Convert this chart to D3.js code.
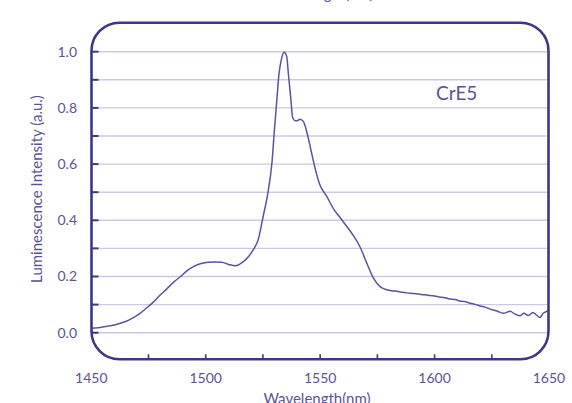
<!DOCTYPE html>
<meta charset="utf-8">
<html>
<head>
<script src="https://d3js.org/d3.v7.min.js"></script>
<style>
  body { margin: 0; background: #fff; }
  svg { display: block; }
  text { font-family: "Century Gothic", "Lato", sans-serif; fill: #5a5497; }
</style>
</head>
<body>
<div id="chart"></div>
<script>
// emission spectrum
var wavelength = [1450,1453,1456,1459,1462,1465,1468,1471,1474,1477,1480,1483,1486,1489,1492,1495,1498,1501,1504,1507,1510,1513,1516,1519,1521,1523,1525,1527,1529,1530,1531,1532,1533,1534.3,1535.4,1536.1,1537.1,1538,1539.3,1540.2,1541.2,1542.7,1544.6,1546.3,1547.8,1549.7,1552.9,1556.1,1558.7,1561,1563.8,1567.4,1570.4,1573.3,1576.2,1580.6,1583,1585,1587,1589.3,1592,1594,1596,1598.1,1600,1602,1604,1606.8,1609,1611,1613,1615.5,1618,1620,1622,1624.3,1627,1630,1633,1635,1637.4,1639,1641,1643,1644.5,1646,1647.5,1649,1650];
var intensity  = [0.016,0.018,0.022,0.026,0.032,0.040,0.052,0.067,0.087,0.108,0.133,0.156,0.180,0.200,0.222,0.237,0.246,0.251,0.252,0.251,0.243,0.238,0.250,0.274,0.298,0.333,0.410,0.490,0.610,0.720,0.820,0.920,0.970,0.998,0.982,0.923,0.840,0.765,0.754,0.755,0.760,0.751,0.700,0.638,0.585,0.530,0.485,0.437,0.410,0.385,0.354,0.306,0.247,0.194,0.164,0.150,0.148,0.145,0.143,0.140,0.139,0.136,0.135,0.132,0.131,0.127,0.125,0.120,0.118,0.113,0.111,0.105,0.100,0.095,0.091,0.084,0.078,0.069,0.076,0.067,0.060,0.069,0.061,0.072,0.063,0.054,0.069,0.076,0.081];

var xTicks = [1450,1500,1550,1600,1650];
var xMinor = [1475,1500,1525,1550,1575,1600,1625];
var yTicks = [0.0,0.2,0.4,0.6,0.8,1.0];
var yGrid  = [0.0,0.1,0.2,0.3,0.4,0.5,0.6,0.7,0.8,0.9,1.0];
var sampleName = "CrE5";

var W = 572, H = 403;
var frame = {left: 91.5, right: 548.5, top: 22.7, bottom: 359.3, r: 28};

var svg = d3.select("#chart").append("svg")
  .attr("width", W).attr("height", H);

var x = d3.scaleLinear().domain([1450,1650]).range([91.3,549]);
var y = d3.scaleLinear().domain([0,1]).range([332.7,51.7]);

// title of the chart above, only its foot shows
svg.append("text")
  .attr("x", 320).attr("y", -1)
  .attr("text-anchor","middle")
  .style("font-size","15px")
  .text("Wavelength(nm)");

// grid lines
svg.append("g").selectAll("line")
  .data(yGrid).enter().append("line")
  .attr("x1", frame.left).attr("x2", frame.right)
  .attr("y1", function(d){ return y(d); })
  .attr("y2", function(d){ return y(d); })
  .attr("stroke","#cdc9e5").attr("stroke-width",1.4);

// left ticks
svg.append("g").selectAll("line")
  .data(yGrid).enter().append("line")
  .attr("x1", frame.left).attr("x2", frame.left + 7)
  .attr("y1", function(d){ return y(d); })
  .attr("y2", function(d){ return y(d); })
  .attr("stroke","#3e3787").attr("stroke-width",2);

// bottom ticks
svg.append("g").selectAll("line")
  .data(xMinor).enter().append("line")
  .attr("x1", function(d){ return x(d); })
  .attr("x2", function(d){ return x(d); })
  .attr("y1", frame.bottom).attr("y2", frame.bottom - 5)
  .attr("stroke","#3e3787").attr("stroke-width",1.6);

// spectrum
var line = d3.line()
  .x(function(d,i){ return x(wavelength[i]); })
  .y(function(d){ return y(d); })
  .curve(d3.curveMonotoneX);

svg.append("path")
  .datum(intensity)
  .attr("d", line)
  .attr("fill","none")
  .attr("stroke","#5b539f")
  .attr("stroke-width",1.5)
  .attr("stroke-linejoin","round");

// rounded frame
svg.append("rect")
  .attr("x", frame.left).attr("y", frame.top)
  .attr("width", frame.right - frame.left)
  .attr("height", frame.bottom - frame.top)
  .attr("rx", frame.r).attr("ry", frame.r)
  .attr("fill","none")
  .attr("stroke","#3e3787").attr("stroke-width",2.6);

// y tick labels
svg.append("g").selectAll("text")
  .data(yTicks).enter().append("text")
  .attr("x", 77)
  .attr("y", function(d){ return y(d); })
  .attr("dy","0.35em")
  .attr("text-anchor","end")
  .style("font-size","14px")
  .text(function(d){ return d3.format(".1f")(d); });

// x tick labels
svg.append("g").selectAll("text")
  .data(xTicks).enter().append("text")
  .attr("x", function(d){ return x(d); })
  .attr("y", 383)
  .attr("text-anchor","middle")
  .style("font-size","14px")
  .text(function(d){ return d; });

// axis titles
svg.append("text")
  .attr("x", 317).attr("y", 404)
  .attr("text-anchor","middle")
  .style("font-size","15px")
  .text("Wavelength(nm)");

svg.append("text")
  .attr("transform","translate(42,189) rotate(-90)")
  .attr("text-anchor","middle")
  .style("font-size","15px")
  .text("Luminescence Intensity (a.u.)");

// sample label
svg.append("text")
  .attr("x", 436).attr("y", 100)
  .style("font-size","19px")
  .text(sampleName);
</script>
</body>
</html>
